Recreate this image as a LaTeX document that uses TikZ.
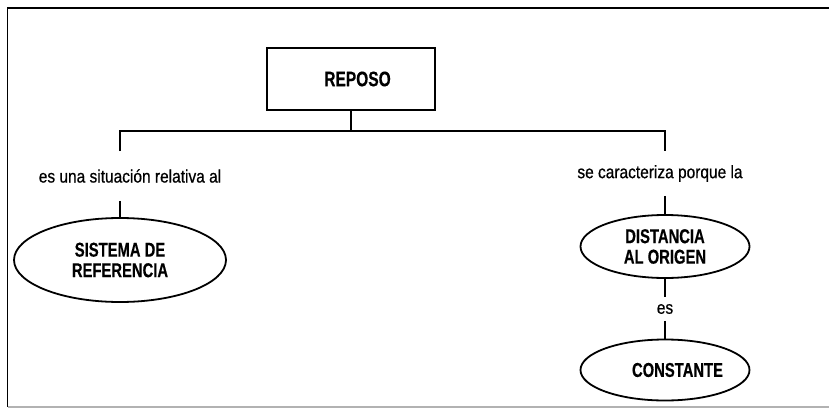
\documentclass[tikz,border=0pt]{standalone}
\usepackage{fontspec}
\setmainfont{Liberation Sans}
\newfontfamily\relfont[FakeStretch=0.86,FakeBold=0.6]{Liberation Sans}
\newfontfamily\conceptfont[FakeStretch=0.74,FakeBold=0.4]{Liberation Sans}
\usetikzlibrary{shapes.geometric}
\usetikzlibrary{calc}

\begin{document}
\begin{tikzpicture}[x=1pt,y=-1pt,line width=1.8pt,
  concept/.style={draw, ellipse, inner sep=0pt, align=center, font=\conceptfont\bfseries\fontsize{20}{20.5}\selectfont},
  rel/.style={inner sep=0pt, font=\relfont\fontsize{18}{18}\selectfont}]
\useasboundingbox (0,0) rectangle (829,409);
\draw[line width=1.5pt] (829,8) -- (7.5,8) -- (7.5,407);
\draw[line width=1.5pt, gray!60] (7.5,407) -- (829,407);
\node[draw, minimum width=168pt, minimum height=62pt, inner sep=0pt, font=\conceptfont\bfseries\fontsize{21}{21}\selectfont] (reposo) at (351,79) {\hspace*{13pt}REPOSO};
\coordinate (bl) at (120,131);
\coordinate (br) at (665,131);
\node[rel, minimum height=48pt] (rel1) at (130,176) {es una situación relativa al};
\node[rel, minimum height=43pt] (rel2) at (660,173.5) {se caracteriza porque la};
\node[concept, minimum width=212pt, minimum height=84pt] (sistema) at (120,260) {SISTEMA DE\\REFERENCIA};
\node[concept, minimum width=169pt, minimum height=63pt] (distancia) at (665,246.5) {DISTANCIA\\AL ORIGEN};
\node[rel, minimum height=22pt] (es) at (665,309) {es};
\node[concept, minimum width=169pt, minimum height=61pt] (constante) at (665,370) {\hspace*{25pt}CONSTANTE};
\draw (reposo.south) -- (reposo.south |- bl);
\draw (bl |- rel1.north) -- (bl) -- (br) -- (br |- rel2.north);
\draw (sistema.north |- rel1.south) -- (sistema.north);
\draw (distancia.north |- rel2.south) -- (distancia.north);
\draw (distancia.south) -- (es.north);
\draw (es.south) -- (constante.north);
\end{tikzpicture}
\end{document}
